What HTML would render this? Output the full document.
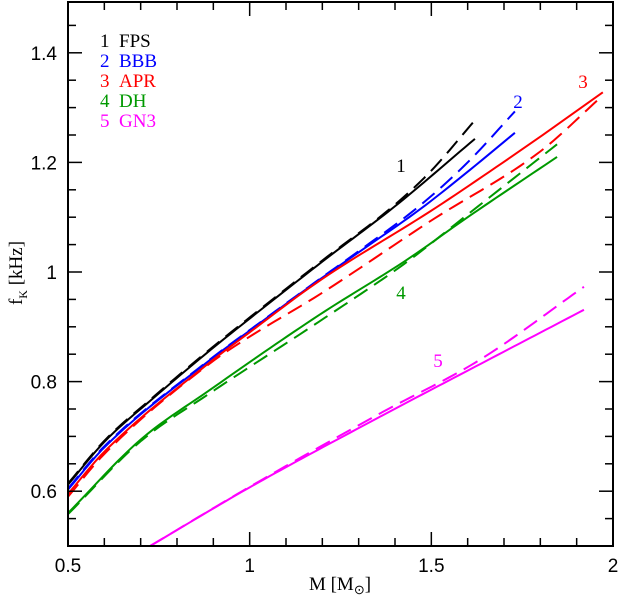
<!DOCTYPE html>
<html><head><meta charset="utf-8"><style>
body{margin:0;background:#fff}
svg{display:block}
.t{font-family:"Liberation Sans",sans-serif;font-size:19px}
.s{font-family:"Liberation Serif",serif;font-size:19px}
</style></head><body>
<svg id="c" width="620" height="604" xmlns="http://www.w3.org/2000/svg">
<g id="g"></g>
<text class="s" x="100" y="47" fill="#000">1 &#160;FPS</text>
<text class="s" x="100" y="67" fill="#0000ff">2 &#160;BBB</text>
<text class="s" x="100" y="87" fill="#ff0000">3 &#160;APR</text>
<text class="s" x="100" y="107" fill="#009900">4 &#160;DH</text>
<text class="s" x="100" y="127" fill="#ff00ff">5 &#160;GN3</text>
<text class="s" x="401" y="172" text-anchor="middle" fill="#000">1</text>
<text class="s" x="518" y="108" text-anchor="middle" fill="#0000ff">2</text>
<text class="s" x="583" y="88" text-anchor="middle" fill="#ff0000">3</text>
<text class="s" x="401" y="299" text-anchor="middle" fill="#009900">4</text>
<text class="s" x="438" y="367" text-anchor="middle" fill="#ff00ff">5</text>
<text class="s" x="340" y="590" text-anchor="middle">M [M<tspan font-size="13" dy="4">⊙</tspan><tspan dy="-4">]</tspan></text>
<text class="s" transform="translate(22,273) rotate(-90)" text-anchor="middle">f<tspan font-size="12" dy="5">K</tspan><tspan dy="-5"> [kHz]</tspan></text>
</svg>
<script>
const xTicks=[0.5,1,1.5,2];
const xTickLabels=["0.5","1","1.5","2"];
const yTicks=[0.6,0.8,1.0,1.2,1.4];
const yTickLabels=["0.6","0.8","1","1.2","1.4"];
const fpsM=[0.5,0.6,0.735,0.9,1.0,1.2,1.4,1.62], fpsF=[0.612,0.69,0.77,0.862,0.915,1.019,1.12,1.243];
const fpsDM=[0.5,0.6,0.735,0.9,1.0,1.2,1.4,1.5,1.62], fpsDF=[0.614,0.692,0.772,0.864,0.917,1.021,1.123,1.185,1.277];
const bbbM=[0.5,0.6,0.89,1.0,1.19,1.3,1.47,1.6,1.73], bbbF=[0.603,0.68,0.839,0.893,0.985,1.036,1.115,1.183,1.254];
const bbbDM=[0.5,0.6,0.89,1.0,1.19,1.3,1.47,1.6,1.73], bbbDF=[0.605,0.682,0.84,0.894,0.986,1.038,1.122,1.2,1.293];
const aprM=[0.5,0.6,0.89,1.0,1.19,1.5,1.6,1.8,1.972], aprF=[0.595,0.672,0.835,0.89,0.983,1.112,1.156,1.247,1.328];
const aprDM=[0.5,0.6,0.89,1.0,1.19,1.5,1.8,1.965], aprDF=[0.59,0.668,0.833,0.882,0.958,1.094,1.22,1.318];
const dhM=[0.5,0.698,0.891,1.19,1.432,1.6,1.846], dhF=[0.56,0.693,0.785,0.921,1.022,1.1,1.21];
const dhDM=[0.5,0.698,0.891,1.19,1.432,1.6,1.846], dhDF=[0.558,0.69,0.779,0.909,1.018,1.105,1.233];
const gn3M=[0.726,1.0,1.359,1.6,1.92], gn3F=[0.5,0.607,0.736,0.82,0.931];
const gn3DM=[0.726,1.0,1.359,1.634,1.92], gn3DF=[0.5,0.608,0.742,0.84,0.973];
const NS="http://www.w3.org/2000/svg";
const L=68,R=613,T=2,B=546;
const X=v=>L+(v-0.5)*(R-L)/1.5;
const Y=v=>B-(v-0.5)*548;
const g=document.getElementById('g');
function el(t,a){const e=document.createElementNS(NS,t);for(const k in a)e.setAttribute(k,a[k]);g.appendChild(e);return e;}
function mono(xs,ys){
  const n=xs.length,d=[],m=[];
  for(let i=0;i<n-1;i++)d.push((ys[i+1]-ys[i])/(xs[i+1]-xs[i]));
  m[0]=d[0];m[n-1]=d[n-2];
  for(let i=1;i<n-1;i++){m[i]=(d[i-1]*d[i]<=0)?0:(d[i-1]+d[i])/2;}
  return function(x){
    let i=0;while(i<n-2&&x>xs[i+1])i++;
    const h=xs[i+1]-xs[i],t=(x-xs[i])/h,t2=t*t,t3=t2*t;
    return (2*t3-3*t2+1)*ys[i]+(t3-2*t2+t)*h*m[i]+(-2*t3+3*t2)*ys[i+1]+(t3-t2)*h*m[i+1];
  };
}
function path(ms,fs,col,dash,name){
  const f=mono(ms,fs);const a=ms[0],b=ms[ms.length-1];const N=80;
  let pts=[];
  for(let k=0;k<=N;k++){const x=a+(b-a)*k/N;pts.push(X(x).toFixed(2)+","+Y(f(x)).toFixed(2));}
  const e=el('polyline',{points:pts.join(" "),fill:'none',stroke:col,'stroke-width':2});
  if(dash)e.setAttribute('stroke-dasharray','16,8');
  
  
}
path(fpsM,fpsF,'#000',false,'line-fps-solid');
path(fpsDM,fpsDF,'#000',true,'line-fps-dashed');
path(bbbM,bbbF,'#0000ff',false,'line-bbb-solid');
path(bbbDM,bbbDF,'#0000ff',true,'line-bbb-dashed');
path(aprM,aprF,'#ff0000',false,'line-apr-solid');
path(aprDM,aprDF,'#ff0000',true,'line-apr-dashed');
path(dhM,dhF,'#009900',false,'line-dh-solid');
path(dhDM,dhDF,'#009900',true,'line-dh-dashed');
path(gn3M,gn3F,'#ff00ff',false,'line-gn3-solid');
path(gn3DM,gn3DF,'#ff00ff',true,'line-gn3-dashed');
const fr=el('rect',{x:L,y:T,width:R-L,height:B-T,fill:'none',stroke:'#000','stroke-width':2});


for(let v=0.5;v<=2.001;v+=0.1){
  const major=xTicks.some(t=>Math.abs(t-v)<1e-6);const len=major?14:8;
  el('line',{x1:X(v),x2:X(v),y1:B,y2:B-len,stroke:'#000','stroke-width':1.5});
  el('line',{x1:X(v),x2:X(v),y1:T,y2:T+len,stroke:'#000','stroke-width':1.5});
}
for(let v=0.5;v<=1.5;v+=0.05){
  const major=yTicks.some(t=>Math.abs(t-v)<1e-6);const len=major?14:8;
  el('line',{x1:L,x2:L+len,y1:Y(v),y2:Y(v),stroke:'#000','stroke-width':1.5});
  el('line',{x1:R,x2:R-len,y1:Y(v),y2:Y(v),stroke:'#000','stroke-width':1.5});
}
xTicks.forEach((v,i)=>{const t=el('text',{x:X(v),y:572,'text-anchor':'middle',class:'t'});t.textContent=xTickLabels[i];

});
yTicks.forEach((v,i)=>{const t=el('text',{x:57,y:Y(v)+7,'text-anchor':'end',class:'t'});t.textContent=yTickLabels[i];

});
</script>
</body></html>
